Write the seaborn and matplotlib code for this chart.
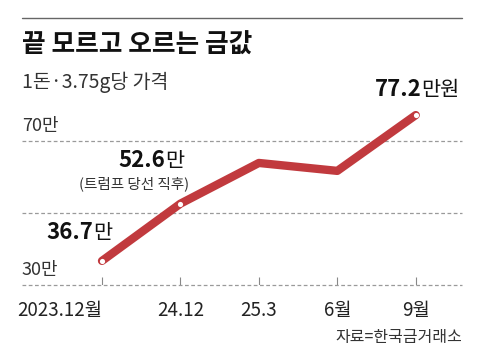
import matplotlib
matplotlib.use('Agg')
import matplotlib.pyplot as plt
from matplotlib.lines import Line2D
from matplotlib.offsetbox import TextArea, HPacker, AnnotationBbox
import seaborn as sns
import pandas as pd

# data
months = ['2023.12월', '24.12', '25.3', '6월', '9월']
prices = [36.7, 52.6, 63.9, 61.7, 77.2]
highlight = [0, 1, 4]
grid_values = [30, 50, 70]
y_labels = {30: '30만', 70: '70만'}

RED = '#c13a3e'
FONT = ['Noto Sans CJK KR', 'DejaVu Sans']

sns.set_theme(style='white')
plt.rcParams['font.family'] = FONT

df = pd.DataFrame({'pos': range(len(months)), 'month': months, 'price': prices})

fig = plt.figure(figsize=(4.8, 3.58), dpi=100)
ax = fig.add_axes([22 / 480, 73 / 358, 440 / 480, 187.2 / 358])

# line
sns.lineplot(data=df, x='pos', y='price', color=RED, linewidth=6, sort=False,
             solid_capstyle='round', solid_joinstyle='round', ax=ax, zorder=3)
sns.scatterplot(data=df.iloc[highlight], x='pos', y='price', color='white',
                s=14, linewidth=0, ax=ax, zorder=4)

ax.set_xlim(-1.02, 4.59)
ax.set_ylim(30, 82)
ax.grid(False)

# grid
for v in grid_values:
    ax.axhline(v, color='#9a9a9a', lw=0.9, ls=(0, (3, 2)), zorder=1, clip_on=False)
for v, lab in y_labels.items():
    ax.annotate(lab, xy=(0, v), xycoords=('axes fraction', 'data'),
                xytext=(0, 6), textcoords='offset pixels', ha='left', va='bottom',
                fontsize=13, color='#333333')

# short tick marks standing on the baseline
ax.vlines(df['pos'], 30, 32.3, color='#888888', lw=0.8, zorder=2)

for s in ax.spines.values():
    s.set_visible(False)
ax.set_yticks([])
ax.set_xticks(df['pos'])
ax.set_xticklabels(months, fontsize=13.5, color='#222222')
ax.tick_params(axis='x', length=0, pad=11)
ax.get_xticklabels()[0].set_ha('right')
ax.set_xlabel('')
ax.set_ylabel('')


def value_label(i, num, unit, dx, dy, size=16):
    box = HPacker(children=[
        TextArea(num, textprops=dict(fontsize=size, fontweight='bold', color='#111111')),
        TextArea(unit, textprops=dict(fontsize=size - 1, color='#111111')),
    ], align='baseline', pad=0, sep=0)
    ab = AnnotationBbox(box, (i, prices[i]), xybox=(dx, dy), boxcoords='offset pixels',
                        box_alignment=(1, 0), frameon=False, pad=0)
    ax.add_artist(ab)


value_label(0, '36.7', '만', 10, 17)
value_label(1, '52.6', '만', 4, 32)
value_label(4, '77.2', '만원', 44, 14)
ax.annotate('(트럼프 당선 직후)', xy=(1, prices[1]), xytext=(9, 12),
            textcoords='offset pixels', ha='right', va='bottom', fontsize=10.5,
            color='#333333')

# header
fig.add_artist(Line2D([22 / 480, 462 / 480], [1 - 18 / 358] * 2, color='#666666', lw=1))
fig.text(22 / 480, 1 - 53 / 358, '끝 모르고 오르는 금값', fontsize=18.5,
         fontweight='bold', color='#111111', va='baseline')
fig.text(22 / 480, 1 - 88 / 358, '1돈·3.75g당 가격', fontsize=14,
         color='#333333', va='baseline')
fig.text(462 / 480, 1 - 342 / 358, '자료=한국금거래소', fontsize=11.5,
         color='#333333', ha='right', va='baseline')

fig.savefig('out.png', dpi=100)
